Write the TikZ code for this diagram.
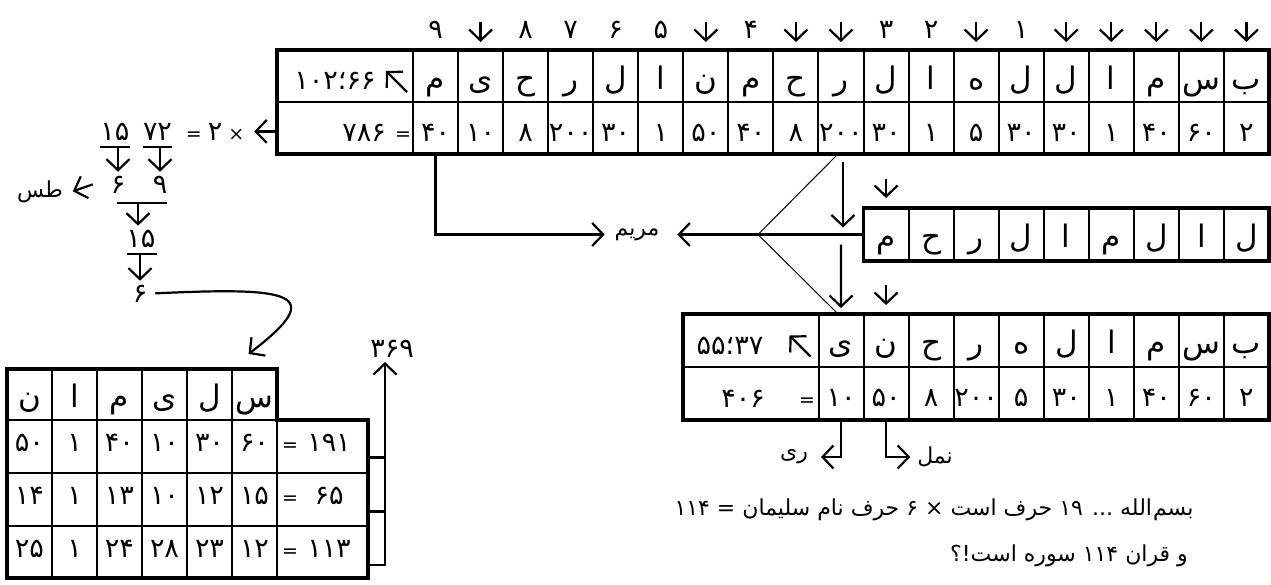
\documentclass[tikz,border=0pt]{standalone}
\usepackage{fontspec}
\setmainfont{DejaVu Sans}
\newfontfamily\arfont[Script=Arabic]{DejaVu Sans}
\usetikzlibrary{arrows.meta,calc}
\TeXXeTstate=1
\newcommand{\cellfs}{\fontsize{27}{30}\selectfont}
\newcommand{\letfs}{\fontsize{31}{34}\selectfont}
\newcommand{\wordfs}{\fontsize{22}{26}\selectfont}
\newcommand{\smallfs}{\fontsize{19}{22}\selectfont}
\begin{document}
\begin{tikzpicture}[x=1pt,y=-1pt,
  every node/.style={font=\arfont\cellfs, inner sep=0pt, outer sep=0pt},
  cellA/.style={minimum width=45.05pt, minimum height=52pt, text height=26pt, text depth=0pt},
  cellL/.style={cellA, font=\arfont\letfs},
  cellB/.style={minimum width=45pt, minimum height=53pt, text height=14pt, text depth=4pt},
  wide/.style={minimum width=#1, minimum height=52pt},
  gridln/.style={line width=2pt},
  frame/.style={line width=3.2pt, line join=miter},
  ln/.style={line width=2.2pt},
  thinln/.style={line width=1pt},
  arr/.style={line width=2.2pt, -{Straight Barb[length=11pt,width=23pt]}},
  lbl/.style={anchor=base},
  word/.style={font=\arfont\wordfs},
  small/.style={font=\arfont\smallfs},
]
\useasboundingbox (0,0) rectangle (1271,584);

% ===== top table =====
\node[wide=136pt] (Tw1) at (345,76) {};
\node[wide=136pt] (Tw2) at (345,128) {};
\foreach \ch [count=\i] in {م,ی,ح,ر,ل,ا,ن,م,ح,ر,ل,ا,ه,ل,ل,ا,م,س,ب}
  \node[cellL] (Tl-\i) at ({413+45.05*(\i-0.5)},76) {\ch};
\foreach \val [count=\i] in {۴۰,۱۰,۸,۲۰۰,۳۰,۱,۵۰,۴۰,۸,۲۰۰,۳۰,۱,۵,۳۰,۳۰,۱,۴۰,۶۰,۲}
  \node[cellA] (Tv-\i) at ({413+45.05*(\i-0.5)},128) {\val};
\draw[gridln] (277,102) -- (1269,102);
\foreach \i in {0,...,18} \draw[gridln] ({413+45.05*\i},50) -- ({413+45.05*\i},154);
\draw[frame] (277,50) rectangle (1269,154);
\node[lbl] (Tw1n) at (335,89) {\mbox{۱۰۲}\mbox{؛}\mbox{۶۶}};
\draw[arr] ($(Tw1.east)+(-6,16)$) -- ($(Tw1.east)+(-27,-5)$);
\node[lbl] (Tw2n) at (364,141) {۷۸۶};
\node[lbl,small] (Tw2e) at (403,140) {=};

% labels above
\foreach \i/\dg in {1/۹,3/۸,4/۷,5/۶,6/۵,8/۴,11/۳,12/۲,14/۱}
  \node[lbl] (N-\i) at ({413+45.05*(\i-0.5)},38) {\dg};
\foreach \i in {2,7,9,10,13,15,16,17,18,19}
  \draw[arr] ($(Tl-\i.north)+(0,-28)$) -- ($(Tl-\i.north)+(0,-8)$);

% ===== second table =====
\foreach \ch [count=\i] in {م,ح,ر,ل,ا,م,ل,ا,ل}
  \node[cellL, minimum height=53pt] (S-\i) at ({863.55+45.05*(\i-0.5)},234.5) {\ch};
\foreach \i in {1,...,8} \draw[gridln] ({863.55+45.05*\i},208) -- ++(0,53);
\draw[frame] (863.55,208) rectangle (1269,261);

% ===== third table =====
\node[wide=135.5pt] (Uw1) at (750.75,340.5) {};
\node[wide=135.5pt] (Uw2) at (750.75,393.5) {};
\foreach \ch [count=\i] in {ی,ن,ح,ر,ه,ل,ا,م,س,ب}
  \node[cellL, minimum height=53pt] (Ul-\i) at ({818.5+45.05*(\i-0.5)},340.5) {\ch};
\foreach \val [count=\i] in {۱۰,۵۰,۸,۲۰۰,۵,۳۰,۱,۴۰,۶۰,۲}
  \node[cellA, minimum height=53pt] (Uv-\i) at ({818.5+45.05*(\i-0.5)},393.5) {\val};
\draw[gridln] (683,367) -- (1269,367);
\foreach \i in {0,...,9} \draw[gridln] ({818.5+45.05*\i},314) -- ++(0,106);
\draw[frame] (683,314) rectangle (1269,420);
\node[lbl] (Uw1n) at (730,354) {\mbox{۵۵}\mbox{؛}\mbox{۳۷}};
\draw[arr] ($(Uw1.east)+(-8,16)$) -- ($(Uw1.east)+(-29,-5)$);
\node[lbl] (Uw2n) at (743,407) {۴۰۶};
\node[lbl,small] (Uw2e) at (807,406) {=};

% ===== middle connectors =====
\node[word] (maryam) at (637,234.5) {\beginR مریم\endR};
\coordinate (J) at (758,234.5);
\draw[arr] (Tv-1.south) |- ([xshift=-10pt]maryam.west);
\draw[arr] (S-1.west) -- ([xshift=18pt]maryam.east);
\draw[thinln] ($(Tv-10.south)+(-3,0)$) -- (J) -- ($(Ul-1.north)+(-3,0)$);
\draw[arr] ($(Tv-10.south)+(2,8)$) -- ($(Tv-10.south |- J)+(2,-7)$);
\draw[arr] ($(Tv-10.south |- J)+(0,10)$) -- ($(Ul-1.north)+(0,-6)$);
\draw[arr] ($(S-1.north)+(0,-29)$) -- ($(S-1.north)+(0,-10)$);
\draw[arr] ($(Ul-2.north)+(0,-29)$) -- ($(Ul-2.north)+(0,-9)$);

% ===== below third table =====
\node[word] (ri) at (794,457) {\beginR ری\endR};
\node[word] (naml) at (935,457) {\beginR نمل\endR};
\draw[arr] (Uv-1.south) |- ([xshift=13pt]ri.east);
\draw[arr] (Uv-2.south) |- ([xshift=-7pt]naml.west);

\node[word] (s1) at (934,510) {\beginR بسم\kern1pt الله ... ۱۹ حرف است × ۶ حرف نام سلیمان = ۱۱۴\endR};
\node[word] (s2) at (1069,556) {\beginR و قران ۱۱۴ سوره است!؟\endR};

% ===== left computation =====
\node[lbl] (n15a) at (115,140) {۱۵};
\node[lbl] (n72) at (157.5,140) {۷۲};
\node[lbl,small] (eq) at (215,140) {= {\cellfs ۲} ×};
\draw[arr] (eq.east -| Tw2.west) -- ([xshift=10pt]eq.east);
\coordinate (b1) at (100,147); \coordinate (b1r) at (130,147);
\coordinate (b2) at (143,147); \coordinate (b2r) at (172,147);
\draw[ln] (b1) -- (b1r);
\draw[ln] (b2) -- (b2r);
\node[lbl] (n6a) at (118,193) {۶};
\node[lbl] (n9) at (160,193) {۹};
\node[lbl,word] (tas) at (40,197) {\beginR طس\endR};
\draw[arr] (n6a |- b1) -- ($(n6a.north)+(0,-4)$);
\draw[arr] (n9 |- b2) -- ($(n9.north)+(0,-4)$);
\draw[arr] ($(n6a.west)+(-18,0)$) -- ($(tas.east)+(10,0)$);
\coordinate (b3) at (117,203); \coordinate (b3r) at (167,203);
\draw[ln] (b3) -- (b3r);
\node[lbl] (n15b) at (141,247) {۱۵};
\draw[arr] ($(n15b |- b3)+(-3,0)$) -- ($(n15b.north)+(-3,-4)$);
\coordinate (b4) at (127,254); \coordinate (b4r) at (157,254);
\draw[ln] (b4) -- (b4r);
\node[lbl] (n6b) at (140,302) {۶};
\draw[arr] (n6b |- b4) -- ($(n6b.north)+(0,-4)$);

% ===== bottom-left table =====
\foreach \ch [count=\i] in {ن,ا,م,ی,ل,س}
  \node[cellL, minimum width=45pt, minimum height=51pt] (H-\i) at ({7+45*(\i-0.5)},394.5) {\ch};
\foreach \val [count=\i] in {۵۰,۱,۴۰,۱۰,۳۰,۶۰}
  \node[cellB] (R1-\i) at ({7+45*(\i-0.5)},446.5) {\val};
\foreach \val [count=\i] in {۱۴,۱,۱۳,۱۰,۱۲,۱۵}
  \node[cellB] (R2-\i) at ({7+45*(\i-0.5)},499.5) {\val};
\foreach \val [count=\i] in {۲۵,۱,۲۴,۲۸,۲۳,۱۲}
  \node[cellB] (R3-\i) at ({7+45*(\i-0.5)},552) {\val};
\node[wide=91pt, minimum height=53pt] (W-1) at (322.5,446.5) {};
\node[wide=91pt, minimum height=53pt] (W-2) at (322.5,499.5) {};
\node[wide=91pt, minimum height=52pt] (W-3) at (322.5,552) {};
\node[lbl,small] (We-1) at (290,451) {=}; \node[lbl] (Wn-1) at (329,451) {۱۹۱};
\node[lbl,small] (We-2) at (290,504) {=}; \node[lbl] (Wn-2) at (329,504) {۶۵};
\node[lbl,small] (We-3) at (290,557) {=}; \node[lbl] (Wn-3) at (329,557) {۱۱۳};
\draw[gridln] (7,420) -- (277,420);
\draw[gridln] (7,473) -- (368,473);
\draw[gridln] (7,526) -- (368,526);
\foreach \i in {1,...,5} \draw[gridln] ({7+45*\i},369) -- ++(0,209);
\draw[gridln] (277,420) -- (277,578);
\draw[frame] (7,369) -- (277,369) -- (277,420) -- (368,420) -- (368,578) -- (7,578) -- cycle;

% bracket
\node[lbl] (k369) at (392,357) {۳۶۹};
\coordinate (br) at ($(W-3.east)+(17,13)$);
\draw[ln] ($(W-1.east)+(0,11)$) -- ++(17,0);
\draw[ln] ($(W-2.east)+(0,12)$) -- ++(17,0);
\draw[arr] ($(W-3.east)+(0,13)$) -- (br) -- ($(br |- k369.south)+(0,5)$);

% curve
\draw[arr] ([xshift=8pt]n6b.east) .. controls (290,287) and (330,292) .. ($(H-6.north)+(-6,-15)$);
\end{tikzpicture}
\end{document}
